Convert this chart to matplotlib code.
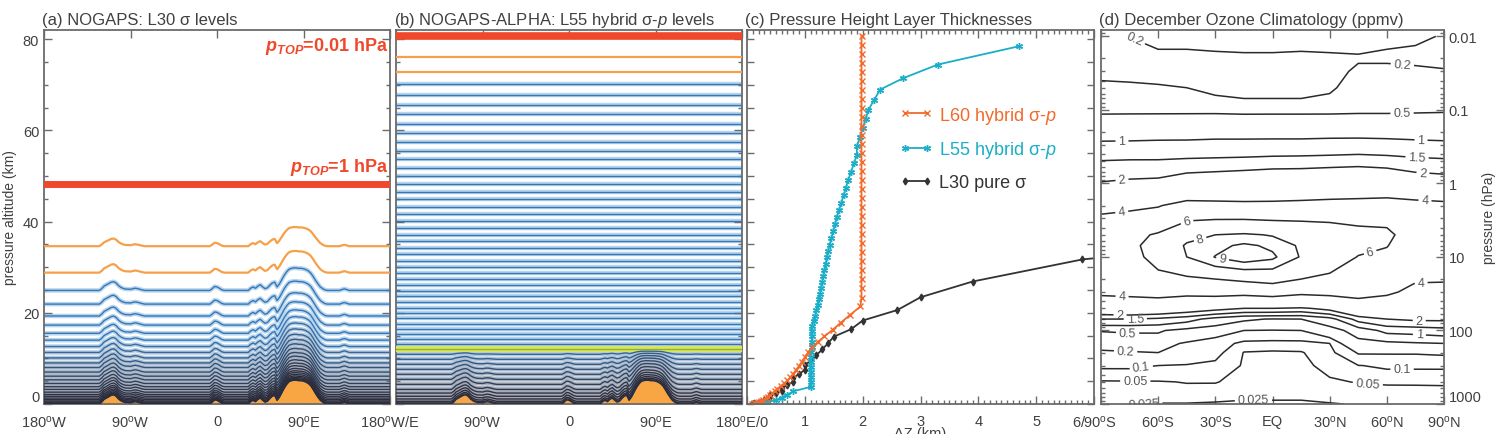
import numpy as np
import matplotlib.pyplot as plt
from matplotlib.colors import to_rgb
from matplotlib.ticker import MultipleLocator, LogLocator, NullFormatter
from matplotlib.transforms import blended_transform_factory

plt.rcParams['font.family'] = ['Liberation Sans', 'DejaVu Sans']
plt.rcParams['mathtext.fontset'] = 'custom'
plt.rcParams['mathtext.rm'] = 'Liberation Sans'
plt.rcParams['mathtext.it'] = 'Liberation Sans:italic'
plt.rcParams['mathtext.bf'] = 'Liberation Sans:bold'
plt.rcParams['mathtext.bfit'] = 'Liberation Sans:italic:bold'

# ---- data ----
# terrain height (km) along the section, every 2.5 deg from 180W to 180E
lon = np.arange(-180, 180.1, 2.5)
terrain = np.array(
    [0.0] * 24
    + [0.4, 1.0, 1.3, 1.6, 1.9, 2.0, 1.7, 1.1, 0.7, 0.45, 0.3, 0.3, 0.25, 0.4,
       0.5, 0.4, 0.25, 0.1]
    + [0.0] * 28
    + [0.4, 0.9, 0.8, 0.5, 0.15]
    + [0.0] * 11
    + [0.5, 0.8, 0.5, 1.0, 1.3, 0.8, 0.4, 0.6, 1.2, 1.7, 1.9, 0.8, 1.5, 2.5,
       3.5, 4.3, 4.9, 5.1, 5.2, 5.2, 5.1, 5.1, 5.0, 4.8, 4.5, 4.0, 3.2, 2.3,
       1.5, 0.8, 0.4, 0.1]
    + [0.0] * 6
    + [0.2, 0.35, 0.2]
    + [0.0] * 18)

# level altitudes over sea level (km), top first
l30_levels = [48.3, 34.6, 28.8, 24.9, 21.9, 19.3, 17.3, 15.5, 14.0, 12.6,
              11.3, 10.1, 9.0, 8.0, 7.0, 6.1, 5.3, 4.5, 3.8, 3.2, 2.6, 2.1,
              1.7, 1.3, 0.95, 0.65, 0.4, 0.2, 0.08, 0.0]
l55_levels = [80.78, 76.08, 72.78, 70.08, 67.78, 65.58, 63.48, 61.43, 59.43,
              57.48, 55.58, 53.68, 51.83, 50.03, 48.28, 46.57, 44.90, 43.27,
              41.68, 40.13, 38.61, 37.12, 35.66, 34.23, 32.83, 31.45, 30.09,
              28.75, 27.43, 26.13, 24.85, 23.59, 22.35, 21.13, 19.93, 18.75,
              17.60, 16.48, 15.36, 14.24, 13.12, 12.0, 10.9, 9.8, 8.7, 7.6,
              6.5, 5.4, 4.3, 3.2, 2.4, 1.7, 1.1, 0.6, 0.25, 0.0]
l60_levels = [0.0, 0.08, 0.20, 0.36, 0.56, 0.80, 1.08, 1.40, 1.76, 2.16, 2.60,
              3.08, 3.60, 4.18, 4.82, 5.52, 6.27, 7.07, 7.92, 8.82, 9.77,
              10.77, 11.83, 12.96, 14.18, 15.52, 17.0, 18.62, 20.4, 22.36,
              24.34, 26.32, 28.30, 30.28, 32.26, 34.24, 36.22, 38.20, 40.18,
              42.16, 44.14, 46.12, 48.10, 50.08, 52.06, 54.04, 56.02, 58.00,
              59.98, 61.96, 63.94, 65.92, 67.90, 69.88, 71.86, 73.84, 75.82,
              77.80, 79.78, 81.76]
hybrid_top = 12.0   # pure pressure above this level in L55

# December ozone climatology (ppmv)
o3_lat = [-90, -75, -60, -45, -30, -15, 0, 15, 30, 45, 60, 75, 90]
o3_p = [1000, 700, 500, 300, 200, 150, 100, 70, 50, 30, 20, 10, 7, 5, 3, 2,
        1, 0.5, 0.3, 0.2, 0.1, 0.07, 0.05, 0.03, 0.02, 0.01]
o3_cols = [
    [0.028, 0.035, 0.045, 0.11, 0.18, 0.25, 0.52, 1.5, 2.6, 4.3, 4.9, 5.3, 5.4, 5.3, 4.3, 3.5, 2.05, 1.52, 1.1, 0.8, 0.45, 0.32, 0.23, 0.17, 0.16, 0.2],
    [0.026, 0.035, 0.046, 0.11, 0.19, 0.26, 0.55, 1.5, 2.7, 4.4, 5.1, 5.6, 5.7, 5.5, 4.5, 3.7, 2.15, 1.55, 1.1, 0.82, 0.45, 0.3, 0.22, 0.17, 0.17, 0.2],
    [0.024, 0.035, 0.047, 0.1, 0.2, 0.26, 0.55, 1.4, 2.6, 4.6, 5.6, 6.4, 6.5, 6.2, 4.9, 3.9, 2.2, 1.55, 1.12, 0.83, 0.45, 0.29, 0.21, 0.17, 0.18, 0.22],
    [0.024, 0.035, 0.052, 0.095, 0.15, 0.18, 0.35, 1.2, 2.4, 4.4, 5.6, 8.0, 8.2, 7.5, 5.8, 4.6, 2.5, 1.6, 1.12, 0.84, 0.45, 0.28, 0.2, 0.16, 0.18, 0.22],
    [0.023, 0.033, 0.052, 0.085, 0.12, 0.15, 0.25, 0.8, 2.2, 4.5, 6.0, 9.05, 8.7, 8.0, 5.9, 4.5, 2.6, 1.62, 1.15, 0.85, 0.45, 0.21, 0.18, 0.16, 0.18, 0.23],
    [0.022, 0.03, 0.038, 0.045, 0.048, 0.075, 0.2, 0.55, 2.0, 4.4, 6.3, 9.6, 9.2, 8.2, 5.9, 4.4, 2.7, 1.65, 1.15, 0.85, 0.44, 0.2, 0.17, 0.15, 0.18, 0.24],
    [0.022, 0.03, 0.035, 0.04, 0.045, 0.07, 0.19, 0.48, 2.0, 4.6, 6.6, 9.2, 8.8, 7.9, 5.8, 4.4, 2.8, 1.7, 1.15, 0.86, 0.44, 0.2, 0.17, 0.15, 0.18, 0.24],
    [0.022, 0.03, 0.036, 0.042, 0.047, 0.07, 0.2, 0.5, 1.9, 4.3, 6.0, 7.9, 7.8, 7.3, 5.8, 4.5, 2.8, 1.72, 1.15, 0.86, 0.44, 0.2, 0.17, 0.15, 0.18, 0.23],
    [0.024, 0.032, 0.045, 0.06, 0.075, 0.1, 0.3, 0.8, 2.2, 4.4, 5.6, 6.8, 7.0, 6.8, 5.8, 4.6, 2.9, 1.75, 1.17, 0.87, 0.44, 0.22, 0.18, 0.16, 0.18, 0.24],
    [0.026, 0.035, 0.052, 0.098, 0.21, 0.35, 0.7, 1.7, 2.8, 4.6, 5.3, 5.95, 6.3, 6.3, 5.8, 4.7, 2.9, 1.8, 1.18, 0.87, 0.45, 0.33, 0.26, 0.22, 0.19, 0.23],
    [0.026, 0.036, 0.055, 0.11, 0.21, 0.38, 1.15, 2.0, 3.0, 4.2, 4.9, 5.7, 6.05, 6.2, 5.8, 4.9, 2.8, 1.75, 1.15, 0.87, 0.45, 0.32, 0.26, 0.22, 0.19, 0.21],
    [0.027, 0.037, 0.055, 0.11, 0.21, 0.45, 1.2, 2.1, 2.9, 3.7, 4.1, 4.8, 5.2, 5.5, 5.4, 4.7, 2.5, 1.65, 1.12, 0.85, 0.46, 0.32, 0.26, 0.21, 0.19, 0.205],
    [0.027, 0.037, 0.056, 0.11, 0.22, 0.5, 1.3, 2.1, 2.6, 3.6, 4.1, 4.7, 5.0, 5.2, 5.0, 4.5, 2.4, 1.6, 1.1, 0.83, 0.47, 0.33, 0.27, 0.205, 0.185, 0.198],
]
o3_levels = [0.025, 0.05, 0.1, 0.2, 0.5, 1, 1.5, 2, 4, 6, 8, 9]
# where the contour labels sit (lat, hPa)
o3_label_at = [(-73, 0.0114), (68, 0.027), (68, 0.117), (-79, 0.26),
               (78, 0.24), (76, 0.36), (-79, 0.88), (79, 0.7), (-79, 2.6),
               (80, 1.75), (-45, 3.0), (51, 8.2), (-38, 5.7), (-26, 10),
               (-79, 37), (78, 23.6), (-80, 58), (77, 74), (-72, 72),
               (77, 128), (-76, 103), (-77, 170), (-69, 297), (68, 330),
               (-72, 464), (50, 543), (-70, 790), (-10, 850)]

# ---- helpers ----
H = 7.0
TEXT = '#404040'
FRAME = '#6b6b6b'
RED = '#f0482a'
ORANGE = '#f6a04a'
LAND = '#f8a643'


def p_of_z(z):
    return 1000.0 * np.exp(-np.asarray(z) / H)


def z_of_p(p):
    return H * np.log(1000.0 / np.asarray(p))


def mix(c0, c1, t):
    a, b = np.array(to_rgb(c0)), np.array(to_rgb(c1))
    return tuple(a + (b - a) * t)


def level_line(ax, x, zz, zflat):
    t = float(np.clip((zflat - 1.0) / 13.0, 0, 1))
    ax.plot(x, zz, color=mix('#a6a6b0', '#b6d5ee', t), lw=3.2, zorder=1,
            solid_capstyle='butt')
    ax.plot(x, zz, color=mix('#2b2d3c', '#3a76b4', t), lw=1.0, zorder=3)


def style(ax):
    for s in ax.spines.values():
        s.set_color(FRAME)
        s.set_linewidth(1.3)
    ax.tick_params(which='both', direction='in', top=True, right=True,
                   color=FRAME, labelcolor=TEXT, labelsize=10.5, width=1)
    ax.tick_params(which='major', length=6)
    ax.tick_params(which='minor', length=3)
    ax.tick_params(axis='x', which='both', pad=7)


deg = r'$^{\rm o}$'
ps = p_of_z(terrain)

fig = plt.figure(figsize=(14.95, 4.35), dpi=100)
FW, FH = 1495.0, 435.0


def add_ax(x0, x1, y0=31, y1=405):
    return fig.add_axes([x0 / FW, (FH - y1) / FH, (x1 - x0) / FW, (y1 - y0) / FH])


axa = add_ax(44, 390)
axb = add_ax(396, 742)
axc = add_ax(747, 1094)
axd = add_ax(1101, 1444)

# ---- (a) L30 sigma levels ----
p_top = p_of_z(l30_levels[0])
for i, z in enumerate(l30_levels[1:], start=1):
    sig = (p_of_z(z) - p_top) / (1000.0 - p_top)
    zz = z_of_p(p_top + sig * (ps - p_top))
    if i <= 2:
        axa.plot(lon, zz, color=ORANGE, lw=1.6, zorder=3)
    else:
        level_line(axa, lon, zz, z)
axa.axhline(l30_levels[0], color=RED, lw=5, zorder=3)
axa.fill_between(lon, 0, terrain, color=LAND, lw=0, zorder=2)

# ---- (b) L55 hybrid sigma-p levels ----
p_hyb = p_of_z(hybrid_top)
for i, z in enumerate(l55_levels[1:], start=1):
    pk = p_of_z(z)
    if z >= hybrid_top:
        zz = np.full_like(lon, z)
    else:
        b = (pk - p_hyb) / (1000.0 - p_hyb)
        zz = z_of_p(pk + b * (ps - 1000.0))
    if i <= 2:
        axb.plot(lon, zz, color=ORANGE, lw=1.6, zorder=3)
    elif z == hybrid_top:
        axb.plot(lon, zz, color='#d6e65e', lw=4.5, zorder=3)
        axb.plot(lon, zz, color='#93ad3a', lw=1.0, zorder=3)
    else:
        level_line(axb, lon, zz, z)
axb.axhline(l55_levels[0], color=RED, lw=5.5, zorder=3)
axb.fill_between(lon, 0, terrain, color=LAND, lw=0, zorder=2)

for ax in (axa, axb):
    style(ax)
    ax.set_xlim(-180, 180)
    ax.set_ylim(0, 82)
    ax.set_xticks([-180, -90, 0, 90, 180])
    ax.yaxis.set_major_locator(MultipleLocator(20))
    ax.yaxis.set_minor_locator(MultipleLocator(5))
axa.set_xticklabels(['180' + deg + 'W', '90' + deg + 'W', '0', '90' + deg + 'E',
                     '180' + deg + 'W/E'])
axb.set_xticklabels(['', '90' + deg + 'W', '0', '90' + deg + 'E',
                     '180' + deg + 'E/0'])
axb.set_yticklabels([])
axa.set_ylabel('pressure altitude (km)', fontsize=10, color=TEXT, labelpad=4)
axa.set_yticks([0, 20, 40, 60, 80])
axa.set_yticklabels(['0', '20', '40', '60', '80'])
axa.get_yticklabels()[0].set_verticalalignment('bottom')

tr = blended_transform_factory(axa.transAxes, axa.transData)
axa.text(0.995, 78.7, r'$\mathbfit{p}_{\mathbfit{TOP}}$=0.01 hPa', transform=tr,
         ha='right', va='center', color=RED, fontsize=13, fontweight='bold')
axa.text(0.995, 52.0, r'$\mathbfit{p}_{\mathbfit{TOP}}$=1 hPa', transform=tr,
         ha='right', va='center', color=RED, fontsize=13, fontweight='bold')

# ---- (c) layer thicknesses ----
series = [
    (l30_levels, 'L30 pure σ', '#333333', 'd', 3.5),
    (l55_levels, 'L55 hybrid σ-$p$', '#1aaec8', (6, 2, 0), 5),
    (l60_levels, 'L60 hybrid σ-$p$', '#f26a2c', 'x', 4),
]
handles = {}
for levels, label, col, mk, ms in series:
    z = np.sort(np.array(levels))
    dz = np.diff(z)
    zm = 0.5 * (z[1:] + z[:-1])
    h, = axc.plot(dz, zm, color=col, lw=1.3, marker=mk, ms=ms, mew=1.0,
                  label=label)
    handles[label] = h
style(axc)
axc.set_xlim(0, 6)
axc.set_ylim(0, 82)
axc.xaxis.set_major_locator(MultipleLocator(1))
axc.xaxis.set_minor_locator(MultipleLocator(0.1))
axc.yaxis.set_major_locator(MultipleLocator(10))
axc.yaxis.set_minor_locator(MultipleLocator(5))
axc.tick_params(axis='y', which='both', length=5)
axc.set_yticklabels([])
axc.set_xticks(range(7))
axc.set_xticklabels(['', '1', '2', '3', '4', '5', '6/90' + deg + 'S'])
axc.set_xlabel('ΔZ (km)', fontsize=10.5, color=TEXT, labelpad=-3)
order = ['L60 hybrid σ-$p$', 'L55 hybrid σ-$p$', 'L30 pure σ']
axc.legend([handles[k] for k in order], order, loc='upper left',
           bbox_to_anchor=(0.44, 0.80), frameon=False, fontsize=13,
           numpoints=2, handlelength=1.8, handletextpad=0.4,
           labelspacing=0.75, borderpad=0, borderaxespad=0,
           labelcolor='linecolor')

# ---- (d) ozone climatology ----
o3 = np.array(o3_cols).T
style(axd)
axd.set_yscale('log')
axd.set_ylim(1000, 0.0082)
axd.set_xlim(-90, 90)
cs = axd.contour(o3_lat, o3_p, o3, levels=o3_levels, colors='#2a2a2a',
                 linewidths=1.1)
axd.clabel(cs, fmt=lambda v: f'{v:g}', fontsize=9, colors='#555555',
           inline=True, inline_spacing=3, manual=o3_label_at)
axd.set_yticks([1000, 100, 10, 1, 0.1, 0.01])
axd.set_yticklabels(['1000', '100', '10', '1', '0.1', '0.01'])
axd.yaxis.set_minor_locator(LogLocator(subs=np.arange(2, 10)))
axd.yaxis.set_minor_formatter(NullFormatter())
axd.tick_params(axis='y', which='both', labelleft=False, labelright=True)
axd.set_xticks([-90, -60, -30, 0, 30, 60, 90])
axd.set_xticklabels(['', '60' + deg + 'S', '30' + deg + 'S', 'EQ',
                     '30' + deg + 'N', '60' + deg + 'N', '90' + deg + 'N'])
axd.yaxis.set_label_position('right')
axd.set_ylabel('pressure (hPa)', fontsize=10, color=TEXT)
axd.yaxis.set_label_coords(1.112, 0.5)
for lab in axd.get_yticklabels():
    if lab.get_text() == '1000':
        lab.set_verticalalignment('bottom')

titles = [(axa, '(a) NOGAPS: L30 σ levels'),
          (axb, '(b) NOGAPS-ALPHA: L55 hybrid σ-$p$ levels'),
          (axc, '(c) Pressure Height Layer Thicknesses'),
          (axd, '(d) December Ozone Climatology (ppmv)')]
for ax, t in titles:
    ax.set_title(t, loc='left', fontsize=12, color=TEXT, pad=4, x=-0.005)

fig.savefig('out.png', dpi=100)
